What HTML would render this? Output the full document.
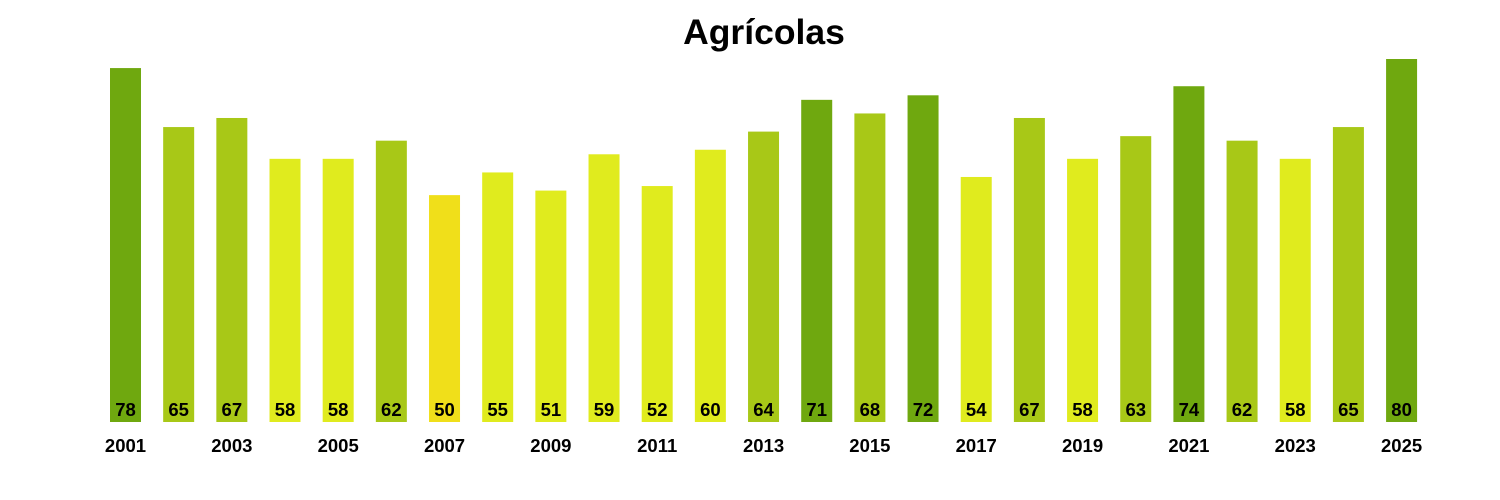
<!DOCTYPE html>
<html><head><meta charset="utf-8"><style>
body{margin:0;background:#fff;}
svg{display:block;font-family:"Liberation Sans",sans-serif;}
</style></head><body>
<svg id="chart" width="1500" height="500">
<text x="764" y="44" text-anchor="middle" font-size="35.5" font-weight="bold">Agrícolas</text>
<g id="bars"></g>
</svg>
<script>
const years = [2001,2002,2003,2004,2005,2006,2007,2008,2009,2010,2011,2012,2013,2014,2015,2016,2017,2018,2019,2020,2021,2022,2023,2024,2025];
const values = [78,65,67,58,58,62,50,55,51,59,52,60,64,71,68,72,54,67,58,63,74,62,58,65,80];
const baseY = 422, pxPerUnit = 4.5375, x0 = 125.5, step = 53.17, bw = 31;
function xPos(i){return x0 + i*step;}
function yPos(v){return baseY - v*pxPerUnit;}
function color(v){ if(v>=70) return '#6fa80f'; if(v>=62) return '#a8c817'; if(v>50) return '#e0eb1e'; return '#f0df1a'; }
const ns='http://www.w3.org/2000/svg', g=document.getElementById('bars');
values.forEach((v,i)=>{
  const r=document.createElementNS(ns,'rect');
  r.setAttribute('x',xPos(i)-bw/2); r.setAttribute('y',yPos(v));
  r.setAttribute('width',bw); r.setAttribute('height',baseY-yPos(v));
  r.setAttribute('fill',color(v));
  
  
  g.appendChild(r);
  const t=document.createElementNS(ns,'text');
  t.setAttribute('x',xPos(i)); t.setAttribute('y',416);
  t.setAttribute('text-anchor','middle'); t.setAttribute('font-size','18.5'); t.setAttribute('font-weight','bold');
  t.textContent=v;
  
  
  g.appendChild(t);
  if(i%2===0){
    const l=document.createElementNS(ns,'text');
    l.setAttribute('x',xPos(i)); l.setAttribute('y',452);
    l.setAttribute('text-anchor','middle'); l.setAttribute('font-size','18.5'); l.setAttribute('font-weight','bold');
    l.textContent=years[i];
    
    
    g.appendChild(l);
  }
});
</script>
</body></html>
